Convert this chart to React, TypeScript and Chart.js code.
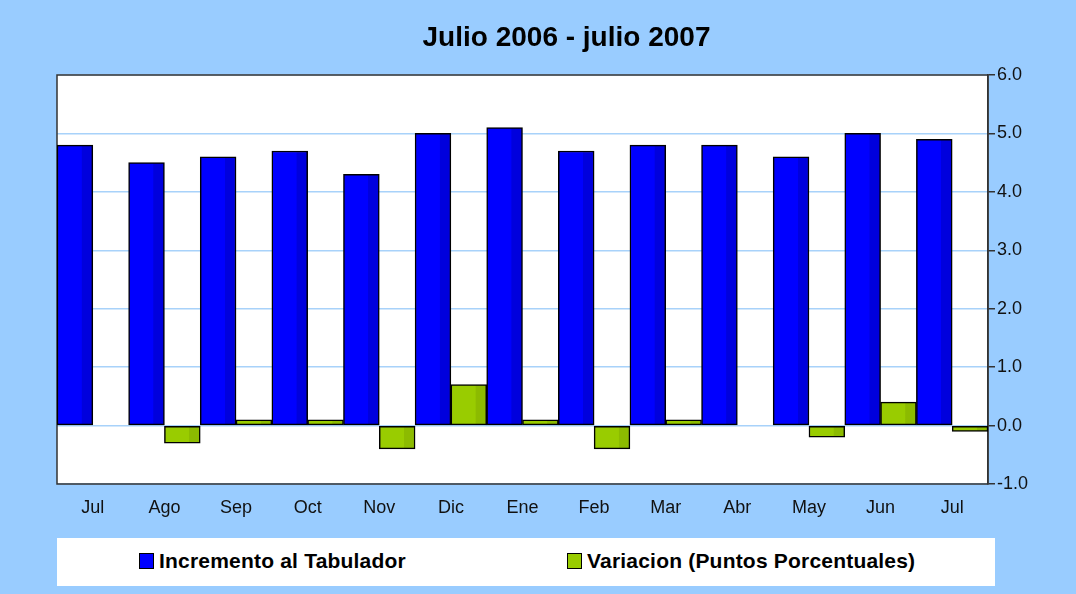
import React, { useEffect, useRef } from "react";
import { Chart, registerables } from "chart.js";

Chart.register(...registerables);

const months = ["Jul", "Ago", "Sep", "Oct", "Nov", "Dic", "Ene", "Feb", "Mar", "Abr", "May", "Jun", "Jul"];
const incremento = [4.8, 4.5, 4.6, 4.7, 4.3, 5.0, 5.1, 4.7, 4.8, 4.8, 4.6, 5.0, 4.9];
const variacion = [0, -0.3, 0.1, 0.1, -0.4, 0.7, 0.1, -0.4, 0.1, 0, -0.2, 0.4, -0.1];
const seriesNames = ["Incremento al Tabulador", "Variacion (Puntos Porcentuales)"];
const titleText = "Julio 2006 - julio 2007";

const FONT = "'Liberation Sans', Arial, Helvetica, sans-serif";
const BG = "#99CCFF";
const BLUE = "#0000FF";
const GREEN = "#99CC00";

function barGradient(ctx: any, main: string, dark: string, side: number) {
  const chart = ctx.chart;
  const x = chart.scales?.x;
  if (!x || ctx.dataIndex === undefined || !chart.chartArea) return main;
  const center = x.getPixelForValue(ctx.dataIndex);
  const half = (chart.chartArea.right - chart.chartArea.left) / months.length / 2;
  const left = side === 0 ? center - half : center;
  const right = left + half;
  const g = chart.ctx.createLinearGradient(left, 0, right, 0);
  g.addColorStop(0, main);
  g.addColorStop(0.68, main);
  g.addColorStop(0.7, dark);
  g.addColorStop(1, dark);
  return g;
}

const plotFrame = {
  id: "plotFrame",
  beforeDraw(chart: any) {
    const { ctx, chartArea: a } = chart;
    ctx.save();
    ctx.fillStyle = "#FFFFFF";
    ctx.fillRect(a.left, a.top, a.right - a.left, a.bottom - a.top);
    ctx.restore();
  },
  beforeDatasetsDraw(chart: any) {
    const { ctx, chartArea: a } = chart;
    ctx.save();
    ctx.strokeStyle = "#333333";
    ctx.lineWidth = 1.5;
    ctx.strokeRect(a.left, a.top, a.right - a.left, a.bottom - a.top);
    ctx.restore();
  },
};

export default function App() {
  const ref = useRef<HTMLCanvasElement | null>(null);

  useEffect(() => {
    if (!ref.current) return;
    const chart = new Chart(ref.current, {
      type: "bar",
      data: {
        labels: months,
        datasets: [
          {
            label: seriesNames[0],
            data: incremento,
            backgroundColor: (c: any) => barGradient(c, BLUE, "#0000DD", 0),
            borderColor: "#000000",
            borderWidth: 1.5,
            borderSkipped: false,
            categoryPercentage: 1,
            barPercentage: 1,
          },
          {
            label: seriesNames[1],
            data: variacion,
            backgroundColor: (c: any) => barGradient(c, GREEN, "#8CBB00", 1),
            borderColor: "#000000",
            borderWidth: 1.5,
            borderSkipped: false,
            categoryPercentage: 1,
            barPercentage: 1,
          },
        ],
      },
      options: {
        responsive: false,
        animation: false,
        layout: { padding: { left: 57, right: 0, top: 0, bottom: 0 } },
        plugins: {
          legend: { display: false },
          tooltip: { enabled: false },
          title: {
            display: true,
            text: titleText,
            color: "#000000",
            font: { family: FONT, size: 28, weight: "bold" },
            padding: { top: 21, bottom: 20.4 },
          },
        },
        scales: {
          x: {
            grid: { display: false, drawTicks: false },
            border: { display: false },
            ticks: {
              color: "#111111",
              padding: 13,
              font: { family: FONT, size: 18 },
              maxRotation: 0,
            },
            afterFit: (s: any) => {
              s.height = 110;
            },
          },
          y: {
            position: "right",
            min: -1,
            max: 6,
            ticks: {
              stepSize: 1,
              color: "#111111",
              padding: 2,
              font: { family: FONT, size: 18 },
              callback: (v: any) => Number(v).toFixed(1),
            },
            grid: {
              color: "#A8D2FA",
              lineWidth: 1.5,
              tickColor: "#333333",
              tickLength: 7,
            },
            border: { display: true, color: "#333333", width: 1.5 },
            afterFit: (s: any) => {
              s.width = 88;
            },
          },
        },
      },
      plugins: [plotFrame],
    });
    return () => chart.destroy();
  }, []);

  const legendText: React.CSSProperties = {
    position: "absolute",
    top: 0,
    height: 48,
    lineHeight: "46px",
    fontFamily: FONT,
    fontWeight: "bold",
    fontSize: 21,
    letterSpacing: "0.2px",
    color: "#000",
    whiteSpace: "nowrap",
  };
  const swatch = (color: string, left: number): React.CSSProperties => ({
    position: "absolute",
    left,
    top: 15,
    width: 13,
    height: 14,
    background: color,
    border: "1.5px solid #000",
  });

  return (
    <div style={{ position: "fixed", left: 0, top: 0, width: 1076, height: 594, background: BG, overflow: "hidden" }}>
      <canvas ref={ref} width={1076} height={594} style={{ position: "absolute", left: 0, top: 0 }} />
      <div style={{ position: "absolute", left: 57, top: 538, width: 938, height: 48, background: "#FFFFFF" }}>
        <div style={swatch(BLUE, 82)} />
        <div style={{ ...legendText, left: 102 }}>{seriesNames[0]}</div>
        <div style={swatch(GREEN, 510)} />
        <div style={{ ...legendText, left: 530 }}>{seriesNames[1]}</div>
      </div>
    </div>
  );
}
